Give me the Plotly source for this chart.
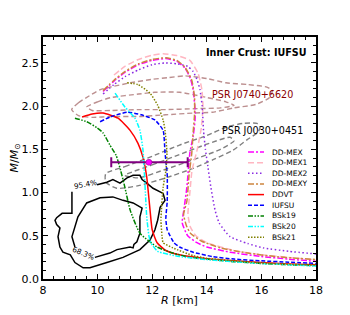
import plotly.graph_objects as go

# ---------------- data ----------------
names = ["DD-MEX", "DD-MEX1", "DD-MEX2", "DD-MEXY", "DDVT", "IUFSU", "BSk19", "BSk20", "BSk21"]
colors = ["#FF00FF", "#FFB6C1", "#8A2BE2", "#CD853F", "#FF0000", "#0000FF", "#008000", "#00FFFF", "#808000"]
dashes = ["6px,2px,2px,2px", "6px,3px", "1.5px,2.5px", "6px,2px,2px,2px", "solid", "4px,2px",
          "5px,1.5px,1.5px,1.5px,1.5px,1.5px", "5px,1.5px,1.5px,1.5px,1.5px,1.5px", "1.5px,1.5px"]

R_ddmex = [10.2, 10.6, 11.0, 11.5, 12.0, 12.5, 12.9, 13.2, 13.4, 13.5, 13.57, 13.57, 13.5, 13.38, 13.27, 13.16, 13.1, 13.3, 13.64, 14.0, 14.85, 16.0, 17.0, 18.0]
M_ddmex = [2.17, 2.29, 2.39, 2.48, 2.53, 2.55, 2.52, 2.44, 2.32, 2.19, 1.96, 1.84, 1.65, 1.46, 1.06, 0.8, 0.65, 0.5, 0.42, 0.37, 0.31, 0.26, 0.23, 0.205]

R_ddmex1 = [10.6, 11.0, 11.5, 12.0, 12.4, 12.9, 13.38, 13.68, 13.82, 13.86, 13.8, 13.65, 13.46, 13.38, 13.31, 13.4, 13.6, 14.0, 15.0, 16.0, 17.0, 18.0]
M_ddmex1 = [2.36, 2.46, 2.54, 2.59, 2.605, 2.585, 2.53, 2.38, 2.19, 1.99, 1.75, 1.5, 1.26, 1.0, 0.75, 0.6, 0.5, 0.42, 0.33, 0.28, 0.25, 0.22]

R_ddmex2 = [10.2, 10.6, 11.0, 11.5, 12.0, 12.47, 12.9, 13.3, 13.5, 13.65, 13.75, 13.83, 13.88, 13.95, 14.04, 14.15, 14.3, 14.45, 14.85, 15.5, 16.06, 17.0, 18.0]
M_ddmex2 = [2.14, 2.25, 2.34, 2.42, 2.48, 2.5, 2.49, 2.46, 2.40, 2.30, 2.19, 2.0, 1.72, 1.5, 1.3, 1.06, 0.8, 0.65, 0.49, 0.41, 0.36, 0.32, 0.29]

R_ddmexy = [10.2, 10.6, 11.0, 11.5, 12.0, 12.5, 12.9, 13.2, 13.45, 13.55, 13.55, 13.5, 13.45, 13.35, 13.27, 13.15, 13.25, 13.4, 13.8, 14.5, 15.5, 16.5, 17.3, 18.0]
M_ddmexy = [2.18, 2.30, 2.40, 2.49, 2.54, 2.56, 2.53, 2.45, 2.30, 2.10, 1.90, 1.70, 1.46, 1.20, 0.90, 0.75, 0.62, 0.53, 0.44, 0.36, 0.30, 0.26, 0.24, 0.225]

R_ddvt = [9.43, 9.8, 10.2, 10.75, 11.19, 11.48, 11.66, 11.8, 11.85, 11.92, 12.0, 12.18, 12.5, 13.0, 14.0, 15.0, 16.0, 17.0, 18.0]
M_ddvt = [1.875, 1.91, 1.92, 1.86, 1.72, 1.57, 1.41, 1.18, 1.03, 0.8, 0.57, 0.42, 0.33, 0.28, 0.235, 0.21, 0.19, 0.175, 0.165]

R_iufsu = [10.09, 10.5, 11.1, 11.6, 12.1, 12.4, 12.47, 12.55, 12.55, 12.5, 12.55, 12.8, 13.0, 13.5, 14.2, 15.0, 16.0, 17.0, 18.0]
M_iufsu = [1.82, 1.88, 1.93, 1.9, 1.84, 1.72, 1.46, 1.2, 0.9, 0.7, 0.57, 0.42, 0.37, 0.31, 0.26, 0.23, 0.21, 0.195, 0.18]

R_bsk19 = [9.17, 9.6, 9.98, 10.2, 10.45, 10.68, 10.85, 11.0, 11.19, 11.55, 12.18, 12.76, 13.38, 14.0, 15.0, 16.0, 17.0, 18.0]
M_bsk19 = [1.86, 1.82, 1.75, 1.69, 1.55, 1.43, 1.25, 1.06, 0.8, 0.53, 0.37, 0.30, 0.25, 0.23, 0.2, 0.18, 0.165, 0.155]

R_bsk20 = [10.64, 11.0, 11.37, 11.55, 11.66, 11.7, 11.75, 11.8, 11.88, 11.95, 12.2, 13.0, 14.0, 15.0, 16.0, 17.0, 18.0]
M_bsk20 = [2.15, 1.99, 1.86, 1.72, 1.5, 1.3, 1.0, 0.72, 0.5, 0.42, 0.32, 0.26, 0.225, 0.2, 0.18, 0.165, 0.15]

R_bsk21 = [11.08, 11.48, 11.92, 12.2, 12.4, 12.47, 12.54, 12.5, 12.4, 12.32, 12.36, 12.4, 12.76, 13.5, 14.0, 15.0, 16.0, 17.0, 18.0]
M_bsk21 = [2.27, 2.25, 2.15, 2.01, 1.84, 1.72, 1.46, 1.25, 1.06, 0.68, 0.5, 0.42, 0.36, 0.27, 0.24, 0.21, 0.185, 0.17, 0.16]

curves_R = [R_ddmex, R_ddmex1, R_ddmex2, R_ddmexy, R_ddvt, R_iufsu, R_bsk19, R_bsk20, R_bsk21]
curves_M = [M_ddmex, M_ddmex1, M_ddmex2, M_ddmexy, M_ddvt, M_iufsu, M_bsk19, M_bsk20, M_bsk21]

# PSR J0740+6620 contours
R_j0740_out = [9.05, 9.3, 9.7, 10.1, 10.6, 11.2, 12.0, 12.6, 13.2, 14.0, 14.7, 15.5, 16.2, 16.4, 16.3, 15.8, 15.0, 14.2, 13.5, 12.5, 11.5, 10.5, 9.8, 9.3, 9.05]
M_j0740_out = [1.96, 2.04, 2.12, 2.19, 2.23, 2.27, 2.31, 2.33, 2.35, 2.32, 2.27, 2.25, 2.22, 2.18, 2.1, 2.02, 1.98, 1.93, 1.92, 1.9, 1.88, 1.88, 1.87, 1.89, 1.96]
R_j0740_in = [9.6, 10.0, 10.5, 11.5, 12.1, 13.0, 14.0, 14.7, 15.0, 14.5, 13.5, 12.5, 11.5, 10.5, 9.8, 9.6]
M_j0740_in = [1.99, 2.05, 2.1, 2.14, 2.16, 2.16, 2.1, 2.05, 2.01, 1.98, 1.97, 1.96, 1.96, 1.95, 1.95, 1.99]

# PSR J0030+0451 contours
R_j0030_out = [10.3, 11.0, 12.0, 13.0, 14.0, 14.74, 15.33, 15.84, 15.95, 15.88, 15.47, 14.96, 14.23, 13.5, 12.5, 11.5, 10.7, 10.3, 10.3]
M_j0030_out = [1.22, 1.3, 1.42, 1.55, 1.66, 1.76, 1.8, 1.8, 1.76, 1.7, 1.61, 1.49, 1.38, 1.28, 1.17, 1.08, 1.05, 1.12, 1.22]
R_j0030_in = [11.0, 12.0, 13.0, 14.0, 14.85, 15.0, 14.5, 13.5, 12.5, 11.5, 11.0]
M_j0030_in = [1.2, 1.32, 1.44, 1.56, 1.64, 1.6, 1.5, 1.38, 1.27, 1.17, 1.2]

# black credible-region contours
R_c95 = [9.98, 10.34, 10.56, 10.82, 11.08, 11.3, 11.55, 11.63, 11.8, 12.03, 12.4, 12.47, 12.29, 12.2, 12.1, 11.92, 11.55, 10.93, 10.34, 9.72, 9.47, 9.17, 9.0, 8.73, 8.62, 8.55, 8.62, 8.5, 8.44, 8.5, 8.7, 9.06, 9.06]
M_c95 = [1.09, 1.12, 1.15, 1.11, 1.17, 1.2, 1.2, 1.15, 1.11, 1.05, 0.99, 0.91, 0.83, 0.68, 0.57, 0.45, 0.34, 0.25, 0.19, 0.13, 0.13, 0.19, 0.28, 0.31, 0.37, 0.49, 0.59, 0.63, 0.68, 0.71, 0.76, 0.76, 1.01]
R_c68 = [9.9, 10.45, 10.71, 11.19, 11.3, 11.33, 11.44, 11.55, 11.55, 11.63, 11.3, 10.93, 10.56, 10.09, 9.6, 9.28, 9.06, 9.17]
M_c68 = [0.25, 0.3, 0.34, 0.37, 0.36, 0.4, 0.43, 0.53, 0.72, 0.82, 0.88, 0.91, 0.95, 0.94, 0.88, 0.72, 0.49, 0.37]

# measurement with error bar
R_meas = [11.88]
M_meas = [1.35]
R_err_plus = [1.42]
R_err_minus = [1.38]

# ---------------- figure ----------------
fig = go.Figure()

for R, M, c in [(R_j0740_out, M_j0740_out, "#BC8F8F"), (R_j0740_in, M_j0740_in, "#BC8F8F"),
                (R_j0030_out, M_j0030_out, "#808080"), (R_j0030_in, M_j0030_in, "#808080")]:
    fig.add_trace(go.Scatter(x=R, y=M, mode="lines", showlegend=False, hoverinfo="skip",
                             line=dict(color=c, width=1.4, dash="5px,3px", shape="spline", smoothing=0.6)))

for R, M in [(R_c95, M_c95), (R_c68, M_c68)]:
    fig.add_trace(go.Scatter(x=R, y=M, mode="lines", showlegend=False, hoverinfo="skip",
                             line=dict(color="black", width=1.5)))

for R, M, n, c, d in zip(curves_R, curves_M, names, colors, dashes):
    fig.add_trace(go.Scatter(x=R, y=M, mode="lines", name=n, showlegend=False,
                             line=dict(color=c, width=1.5, dash=d, shape="spline", smoothing=0.5)))

fig.add_trace(go.Scatter(x=R_meas, y=M_meas, mode="markers", showlegend=False,
                         marker=dict(color="#FF00FF", size=6, line=dict(color="#800080", width=0.5)),
                         error_x=dict(type="data", symmetric=False, array=R_err_plus, arrayminus=R_err_minus,
                                      color="#800080", thickness=2, width=5)))

# The page body has an 8px default margin, so the figure is 8px smaller
# and the plot area is placed so that it lands at window pixels 43..316 x 37..279.
OFF = 8
FIG_W, FIG_H = 350 - OFF, 315 - OFF
ax_l, ax_r, ax_t, ax_b = 43 - OFF, 316 - OFF, 37 - OFF, 279 - OFF

def px_to_paper_x(px):  # px in window pixels
    return (px - OFF - ax_l) / (ax_r - ax_l)
def py_to_paper_y(py):
    return (ax_b - (py - OFF)) / (ax_b - ax_t)

leg_top_py = 152
leg_step = 10.65
shapes = []
annotations = []
for i, (n, c, d) in enumerate(zip(names, colors, dashes)):
    yy = py_to_paper_y(leg_top_py + i * leg_step)
    shapes.append(dict(type="line", xref="paper", yref="paper",
                       x0=px_to_paper_x(248), x1=px_to_paper_x(264), y0=yy, y1=yy,
                       line=dict(color=c, width=1.5, dash=d)))
    annotations.append(dict(x=px_to_paper_x(270), y=yy, xref="paper", yref="paper", text=n,
                            showarrow=False, xanchor="left", yanchor="middle",
                            font=dict(size=7.5, color="black")))

annotations += [
    dict(x=px_to_paper_x(309), y=py_to_paper_y(52), xref="paper", yref="paper",
         text="<b>Inner Crust: IUFSU</b>", showarrow=False, xanchor="right", yanchor="middle",
         font=dict(size=9.6, color="black")),
    dict(x=14.1, y=2.13, text="PSR J0740+6620", showarrow=False, xanchor="left", yanchor="middle",
         font=dict(size=9.6, color="#8B0000")),
    dict(x=14.48, y=1.72, text="PSR J0030+0451", showarrow=False, xanchor="left", yanchor="middle",
         font=dict(size=9.6, color="black")),
    dict(x=9.54, y=1.09, text="95.4%", showarrow=False, textangle=-10,
         font=dict(size=7.3, color="black")),
    dict(x=9.5, y=0.30, text="68.3%", showarrow=False, textangle=22,
         font=dict(size=7.3, color="black")),
]

axis_common = dict(showgrid=False, zeroline=False, showline=True, linecolor="black", linewidth=1.5,
                   mirror="allticks", ticks="inside", ticklen=5, tickwidth=1, tickcolor="black",
                   tickfont=dict(size=11, color="black"), automargin=False)

fig.update_layout(
    width=FIG_W, height=FIG_H,
    margin=dict(l=ax_l, r=FIG_W - ax_r, t=ax_t, b=FIG_H - ax_b),
    paper_bgcolor="white", plot_bgcolor="white",
    font=dict(family="DejaVu Sans", color="black"),
    shapes=shapes, annotations=annotations,
    xaxis=dict(range=[8, 18], dtick=2, tick0=8,
               minor=dict(dtick=0.4, ticks="inside", ticklen=3, tickcolor="black"),
               title=dict(text="<i>R</i> [km]", font=dict(size=11), standoff=0), **axis_common),
    yaxis=dict(range=[0, 2.8], dtick=0.5, tick0=0, tickformat=".1f",
               minor=dict(dtick=0.1, ticks="inside", ticklen=3, tickcolor="black"),
               title=dict(text="<i>M</i>/<i>M</i><sub>⊙</sub>", font=dict(size=11), standoff=2), **axis_common),
)

fig.write_html("out.html")
